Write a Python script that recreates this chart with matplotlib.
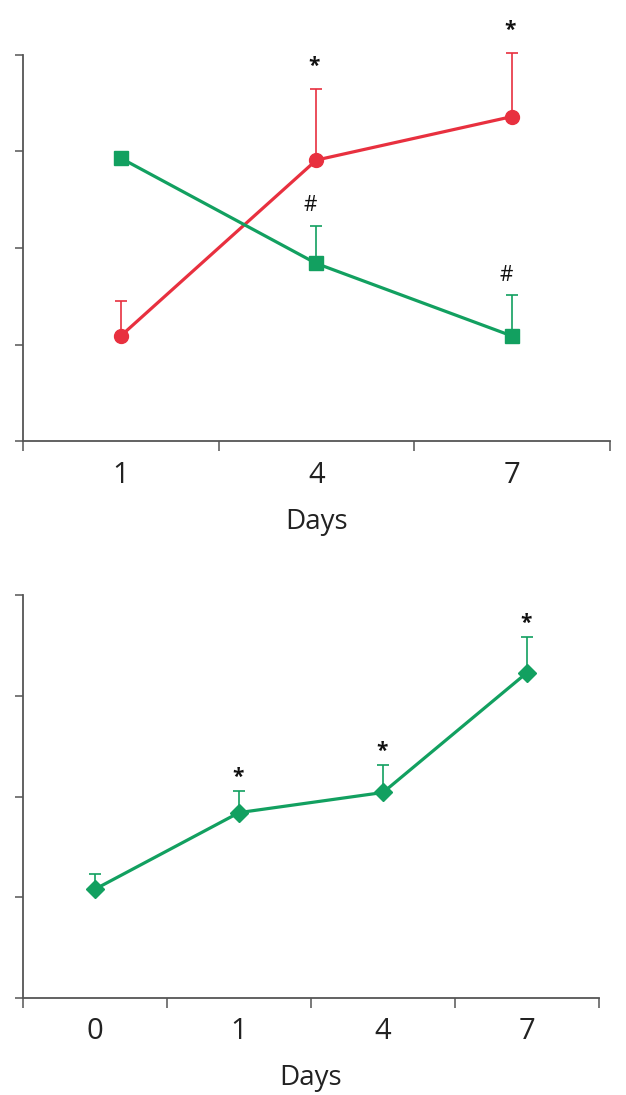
import matplotlib
matplotlib.use("Agg")
import matplotlib.pyplot as plt
import numpy as np

plt.rcParams['font.family'] = ['Open Sans', 'DejaVu Sans']

# Top panel data
top_days = ["1", "4", "7"]
red_vals = [1.09, 2.91, 3.36]
red_err = [0.36, 0.74, 0.66]
red_marks = ["", "*", "*"]
green_vals = [2.93, 1.84, 1.09]
green_err = [0.0, 0.39, 0.42]
green_marks = ["", "#", "#"]

# Bottom panel data
bot_days = ["0", "1", "4", "7"]
bot_vals = [1.08, 1.84, 2.04, 3.23]
bot_err = [0.15, 0.21, 0.27, 0.35]
bot_marks = ["", "*", "*", "*"]

RED = "#E8303F"
GREEN = "#12A060"
AX = "#555555"

fig = plt.figure(figsize=(6.26, 10.95), dpi=100)
ax1 = fig.add_axes([0.0367, 0.597, 0.974 - 0.0367, 0.950 - 0.597])
ax2 = fig.add_axes([0.0367, 0.0886, 0.957 - 0.0367, 0.4566 - 0.0886])


def style(ax, n):
    ax.set_xlim(-0.5, n - 0.5)
    ax.set_ylim(0, 4)
    for s in ("top", "right"):
        ax.spines[s].set_visible(False)
    for s in ("left", "bottom"):
        ax.spines[s].set_color(AX)
        ax.spines[s].set_linewidth(1.3)
    ax.set_yticks([0, 1, 2, 3, 4])
    ax.set_yticklabels([])
    ax.tick_params(axis='y', direction='out', length=6, width=1.1, color=AX)
    ax.set_xticks(np.arange(n))
    ax.set_xticks(np.arange(n + 1) - 0.5, minor=True)
    ax.tick_params(axis='x', which='major', length=0, pad=14, labelsize=21, labelcolor="#222222")
    ax.tick_params(axis='x', which='minor', direction='out', length=7, width=1.1, color=AX)
    ax.set_xlabel("Days", fontsize=20, color="#222222", labelpad=13)


def noclip(cont):
    line, caps, bars = cont
    if line is not None:
        line.set_clip_on(False)
    for c in caps:
        c.set_clip_on(False)
    for b in bars:
        b.set_clip_on(False)


# Top panel
x1 = np.arange(len(top_days))
style(ax1, len(top_days))
ax1.set_xticklabels(top_days)
c = ax1.errorbar(x1, red_vals, yerr=[np.zeros(3), red_err], color=RED, lw=2.3,
                 marker='o', ms=10, elinewidth=1.2, capsize=4.3, capthick=1.2, zorder=3)
noclip(c)
c = ax1.errorbar(x1, green_vals, yerr=[np.zeros(3), green_err], color=GREEN, lw=2.3,
                 marker='s', ms=9.5, elinewidth=1.2, capsize=4.3, capthick=1.2, zorder=3)
noclip(c)
for xi, v, e, m in zip(x1, red_vals, red_err, red_marks):
    if m:
        ax1.text(xi - 0.01, v + e + 0.12, m, ha='center', va='bottom', fontsize=15,
                 color="#111111", fontweight='bold')
for xi, v, e, m in zip(x1, green_vals, green_err, green_marks):
    if m:
        ax1.text(xi - 0.03, v + e + 0.1, m, ha='center', va='bottom', fontsize=15,
                 color="#111111")

# Bottom panel
x2 = np.arange(len(bot_days))
style(ax2, len(bot_days))
ax2.set_xticklabels(bot_days)
c = ax2.errorbar(x2, bot_vals, yerr=[np.zeros(4), bot_err], color=GREEN, lw=2.3,
                 marker='D', ms=9, elinewidth=1.2, capsize=4.3, capthick=1.2, zorder=3)
noclip(c)
for xi, v, e, m in zip(x2, bot_vals, bot_err, bot_marks):
    if m:
        ax2.text(xi - 0.01, v + e + 0.03, m, ha='center', va='bottom', fontsize=15,
                 color="#111111", fontweight='bold')

fig.savefig("out.png", dpi=100)
